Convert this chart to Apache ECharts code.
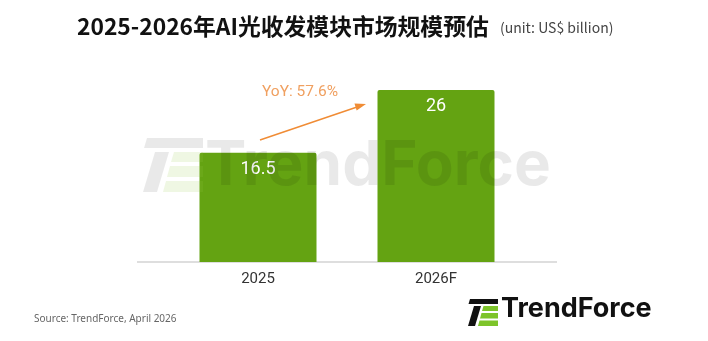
<!DOCTYPE html>
<html><head><meta charset="utf-8">
<script src="https://cdn.jsdelivr.net/npm/echarts@6/dist/echarts.min.js"></script>
<style>html,body{margin:0;padding:0;background:#fff}#c{width:708px;height:341px}</style>
</head><body><div id="c"></div>
<script>
const categories = ['2025', '2026F'];
const values = [16.5, 26];
const yoyLabel = 'YoY: 57.6%';
const titleText = '2025-2026年AI光收发模块市场规模预估';
const unitText = '(unit: US$ billion)';
const sourceText = 'Source: TrendForce, April 2026';

const chart = echarts.init(document.getElementById('c'), null, {renderer: 'canvas'});
const green = '#64A312';
const wmGray = 'rgba(0,0,0,0.085)';
const wmGreen = 'rgba(150,200,70,0.15)';

function logo(x, y, s, dark, grn, z) {
  return [
    {type: 'polygon', z: z, shape: {points: [[x + 2*s, y], [x + 30*s, y], [x + 30*s, y + 5*s], [x + 0.5*s, y + 5*s]]}, style: {fill: dark}},
    {type: 'polygon', z: z, shape: {points: [[x + 6*s, y + 7*s], [x + 13*s, y + 7*s], [x + 7*s, y + 27*s], [x, y + 27*s]]}, style: {fill: dark}},
    {type: 'polygon', z: z, shape: {points: [[x + 15.5*s, y + 7*s], [x + 30*s, y + 7*s], [x + 30*s, y + 12*s], [x + 14*s, y + 12*s]]}, style: {fill: grn}},
    {type: 'polygon', z: z, shape: {points: [[x + 13.5*s, y + 14*s], [x + 30*s, y + 14*s], [x + 30*s, y + 19.5*s], [x + 12*s, y + 19.5*s]]}, style: {fill: grn}},
    {type: 'polygon', z: z, shape: {points: [[x + 11.5*s, y + 21.5*s], [x + 30*s, y + 21.5*s], [x + 30*s, y + 27*s], [x + 10*s, y + 27*s]]}, style: {fill: grn}}
  ];
}

const graphics = [
  {type: 'text', left: 77, top: 15, style: {text: titleText, font: 'bold 22.8px "Noto Sans CJK SC", sans-serif', fill: '#111'}},
  {type: 'text', left: 500, top: 21, style: {text: unitText, font: '14px "Noto Sans CJK SC", "Noto Sans", sans-serif', fill: '#444'}},
  {type: 'text', left: 34, top: 314, style: {text: sourceText, font: '10px "Noto Sans", sans-serif', fill: '#666'}},
  {type: 'line', z: 1, shape: {x1: 137, y1: 262, x2: 557, y2: 262}, style: {stroke: '#bdbdbd', lineWidth: 1}},
  {type: 'text', left: 262, top: 84, style: {text: yoyLabel, font: '15.5px Roboto, sans-serif', fill: '#F0A060'}},
  {type: 'line', shape: {x1: 260, y1: 140, x2: 360, y2: 106}, style: {stroke: '#F08C35', lineWidth: 1.5}},
  {type: 'polygon', shape: {points: [[366, 104], [356.7, 110.5], [354.5, 103.5]]}, style: {fill: '#F08C35'}},
  {type: 'text', z: 200, left: 205, top: 135, style: {text: 'TrendForce', font: 'bold 62px Inter, sans-serif', fill: wmGray}},
  {type: 'text', left: 501, top: 295, style: {text: 'TrendForce', font: 'bold 27px Inter, sans-serif', fill: '#111'}}
].concat(logo(143, 138, 2.0, wmGray, wmGreen, 200)).concat(logo(468, 299, 1.0, '#111', '#7DC42A', 10));

chart.setOption({
  animation: false,
  grid: {left: 169, right: 183, top: 63.5, bottom: 79},
  xAxis: {
    type: 'category', data: categories,
    axisLine: {show: false}, axisTick: {show: false},
    axisLabel: {margin: 10, fontSize: 15, color: '#333', fontFamily: 'Roboto'}
  },
  yAxis: {type: 'value', min: 0, max: 30, show: false, splitLine: {show: false}},
  series: [{
    type: 'bar', data: values, barWidth: 117,
    itemStyle: {color: green, borderRadius: [2, 2, 0, 0]},
    label: {show: true, position: 'insideTop', distance: 8, color: '#fff', fontSize: 18, fontFamily: 'Roboto'}
  }],
  graphic: graphics
});
</script></body></html>
